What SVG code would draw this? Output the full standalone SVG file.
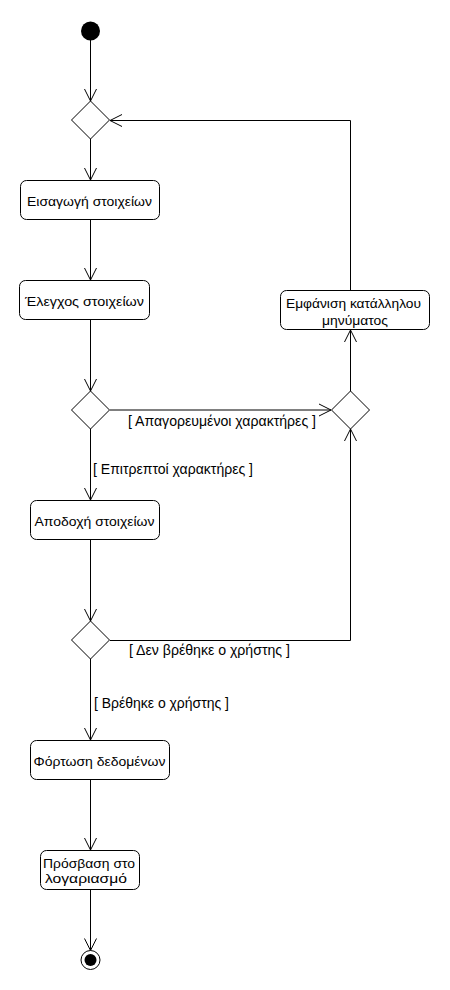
<svg xmlns="http://www.w3.org/2000/svg" width="450" height="990" viewBox="0 0 450 990">
<style>
.node rect{fill:#fff;stroke:#000;stroke-width:1}
.dec{fill:#fff;stroke:#000;stroke-width:1}
text{font-family:"Liberation Sans",Arial,sans-serif;font-size:13px;fill:#000}
.c{text-anchor:middle}
.lbl{font-size:14px}
.edge{fill:none;stroke:#000;stroke-width:1}
</style>
<defs>
<marker id="arr" markerUnits="userSpaceOnUse" markerWidth="14" markerHeight="14" refX="12" refY="6" orient="auto" overflow="visible">
<path d="M0,0 L12,6 L0,12" fill="none" stroke="#000" stroke-width="1"/>
</marker>
</defs>
<rect width="450" height="990" fill="#fff"/>
<g id="edges">
<path class="edge" d="M90.5,40 L90.5,101" marker-end="url(#arr)"/>
<path class="edge" d="M90.5,139 L90.5,180" marker-end="url(#arr)"/>
<path class="edge" d="M90.5,220 L90.5,280" marker-end="url(#arr)"/>
<path class="edge" d="M90.5,320 L90.5,391" marker-end="url(#arr)"/>
<path class="edge" d="M110,410 L331,410" marker-end="url(#arr)"/>
<path class="edge" d="M90.5,429 L90.5,500" marker-end="url(#arr)"/>
<path class="edge" d="M350.5,391 L350.5,330" marker-end="url(#arr)"/>
<path class="edge" d="M350.5,290 L350.5,120.5 L110,120.5" marker-end="url(#arr)"/>
<path class="edge" d="M90.5,540 L90.5,621" marker-end="url(#arr)"/>
<path class="edge" d="M110,640.5 L350.5,640.5 L350.5,429" marker-end="url(#arr)"/>
<path class="edge" d="M90.5,659 L90.5,740" marker-end="url(#arr)"/>
<path class="edge" d="M90.5,780 L90.5,850" marker-end="url(#arr)"/>
<path class="edge" d="M90.5,890 L90.5,950.5" marker-end="url(#arr)"/>
<text class="lbl" x="128" y="425.5" textLength="188" lengthAdjust="spacingAndGlyphs">[ Απαγορευμένοι χαρακτήρες ]</text>
<text class="lbl" x="93" y="474" textLength="160" lengthAdjust="spacingAndGlyphs">[ Επιτρεπτοί χαρακτήρες ]</text>
<text class="lbl" x="129" y="655" textLength="161" lengthAdjust="spacingAndGlyphs">[ Δεν βρέθηκε ο χρήστης ]</text>
<text class="lbl" x="94" y="708" textLength="135" lengthAdjust="spacingAndGlyphs">[ Βρέθηκε ο χρήστης ]</text>
</g>
<g id="start"><circle cx="90.5" cy="31" r="9.5" fill="#000"/></g>
<g id="merge1"><path class="dec" d="M90.5,101 L109.5,120 L90.5,139 L71.5,120 Z"/></g>
<g id="n1" class="node"><rect x="20.5" y="180.5" width="139" height="39" rx="6"/><text class="c" x="89.5" y="205.5" textLength="125" lengthAdjust="spacingAndGlyphs">Εισαγωγή στοιχείων</text></g>
<g id="n2" class="node"><rect x="19.5" y="280.5" width="130" height="39" rx="6"/><text class="c" x="84.5" y="306" textLength="119" lengthAdjust="spacingAndGlyphs">Έλεγχος στοιχείων</text></g>
<g id="dec1"><path class="dec" d="M90.5,391 L109.5,410 L90.5,429 L71.5,410 Z"/></g>
<g id="merge2"><path class="dec" d="M350.5,391 L369.5,410 L350.5,429 L331.5,410 Z"/></g>
<g id="n3" class="node"><rect x="280.5" y="290.5" width="149" height="39" rx="6"/><text class="c" x="353.5" y="307.5" textLength="135" lengthAdjust="spacingAndGlyphs">Εμφάνιση κατάλληλου</text><text class="c" x="355" y="325" textLength="66" lengthAdjust="spacingAndGlyphs">μηνύματος</text></g>
<g id="n4" class="node"><rect x="30.5" y="500.5" width="129" height="39" rx="6"/><text class="c" x="94.5" y="525.5" textLength="120" lengthAdjust="spacingAndGlyphs">Αποδοχή στοιχείων</text></g>
<g id="dec2"><path class="dec" d="M90.5,621 L109.5,640 L90.5,659 L71.5,640 Z"/></g>
<g id="n5" class="node"><rect x="30.5" y="740.5" width="139" height="39" rx="6"/><text class="c" x="99.5" y="765.5" textLength="132" lengthAdjust="spacingAndGlyphs">Φόρτωση δεδομένων</text></g>
<g id="n6" class="node"><rect x="40.5" y="850.5" width="99" height="39" rx="6"/><text class="c" x="89" y="867.5" textLength="92" lengthAdjust="spacingAndGlyphs">Πρόσβαση στο</text><text class="c" x="86" y="883" textLength="82" lengthAdjust="spacingAndGlyphs">λογαριασμό</text></g>
<g id="end"><circle cx="90.5" cy="960" r="9.5" fill="#fff" stroke="#000" stroke-width="1"/><circle cx="90.5" cy="960" r="6" fill="#000"/></g>
</svg>
